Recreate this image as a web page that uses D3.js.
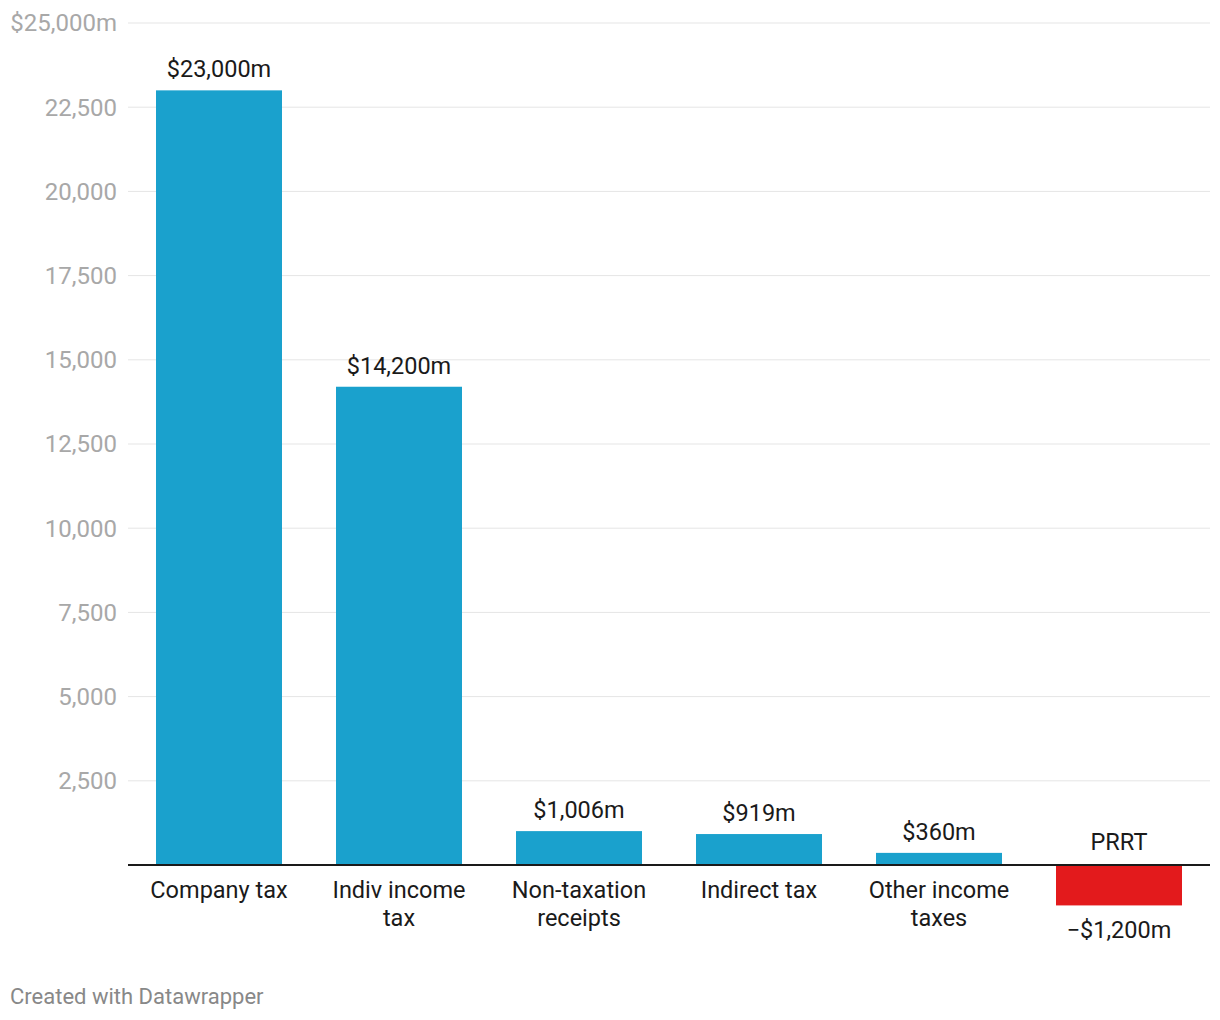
<!DOCTYPE html>
<html><head><meta charset="utf-8">
<script src="https://cdn.jsdelivr.net/npm/d3@7"></script>
<style>body{margin:0;background:#fff;font-family:Roboto,sans-serif;}</style>
</head><body>
<svg id="c" width="1220" height="1020"></svg>
<script>
const categories = ["Company tax", "Indiv income tax", "Non-taxation receipts", "Indirect tax", "Other income taxes", "PRRT"];
const categoryLines = [["Company tax"], ["Indiv income", "tax"], ["Non-taxation", "receipts"], ["Indirect tax"], ["Other income", "taxes"], []];
const values = [23000, 14200, 1006, 919, 360, -1200];
const valueLabels = ["$23,000m", "$14,200m", "$1,006m", "$919m", "$360m", "\u2212$1,200m"];
const tickValues = [2500, 5000, 7500, 10000, 12500, 15000, 17500, 20000, 22500, 25000];
const tickLabels = ["2,500", "5,000", "7,500", "10,000", "12,500", "15,000", "17,500", "20,000", "22,500", "$25,000m"];

const svg = d3.select("#c");
const y = d3.scaleLinear().domain([0, 25000]).range([865, 23]);
const x = d3.scaleBand().domain(categories).range([129, 1209]).paddingInner(0.3).paddingOuter(0.15);

// grid
svg.append("g").selectAll("line").data(tickValues).join("line")
  .attr("x1", 128).attr("x2", 1210)
  .attr("y1", d => y(d)).attr("y2", d => y(d))
  .attr("stroke", "#e5e5e5").attr("stroke-width", 1);
svg.append("g").selectAll("text").data(tickValues).join("text")
  .attr("x", 117).attr("y", d => y(d)).attr("dy", "0.35em")
  .attr("text-anchor", "end").attr("fill", "#a8a8a8")
  .style("font-size", "24px").text((d, i) => tickLabels[i]);

// bars
svg.append("g").selectAll("rect").data(values).join("rect")
  .attr("x", (d, i) => x(categories[i]))
  .attr("width", x.bandwidth())
  .attr("y", d => d >= 0 ? y(d) : y(0) + 1)
  .attr("height", d => d >= 0 ? y(0) - y(d) : y(d) - y(0) - 1)
  .attr("fill", d => d >= 0 ? "#1aa1cd" : "#e31a1c");

// baseline
svg.append("line").attr("x1", 128).attr("x2", 1210).attr("y1", y(0)).attr("y2", y(0))
  .attr("stroke", "#1a1a1a").attr("stroke-width", 2);

// value labels
svg.append("g").selectAll("text").data(values).join("text")
  .attr("x", (d, i) => x(categories[i]) + x.bandwidth() / 2)
  .attr("y", d => d >= 0 ? y(d) - 13 : y(d) + 33)
  .attr("text-anchor", "middle").attr("fill", "#1a1a1a")
  .style("font-size", "23.5px").text((d, i) => valueLabels[i]);

// category labels
categories.forEach((c, i) => {
  const cx = x(c) + x.bandwidth() / 2;
  if (values[i] >= 0) {
    const t = svg.append("text").attr("x", cx).attr("y", 898).attr("text-anchor", "middle")
      .attr("fill", "#1a1a1a").style("font-size", "23.5px");
    categoryLines[i].forEach((l, j) => {
      t.append("tspan").attr("x", cx).attr("y", 898 + j * 28).text(l);
    });
  } else {
    svg.append("text").attr("x", cx).attr("y", 850).attr("text-anchor", "middle")
      .attr("fill", "#1a1a1a").style("font-size", "23.5px").text(c);
  }
});

svg.append("text").attr("x", 10).attr("y", 1004).attr("fill", "#888")
  .style("font-size", "22px").text("Created with Datawrapper");
</script>
</body></html>
